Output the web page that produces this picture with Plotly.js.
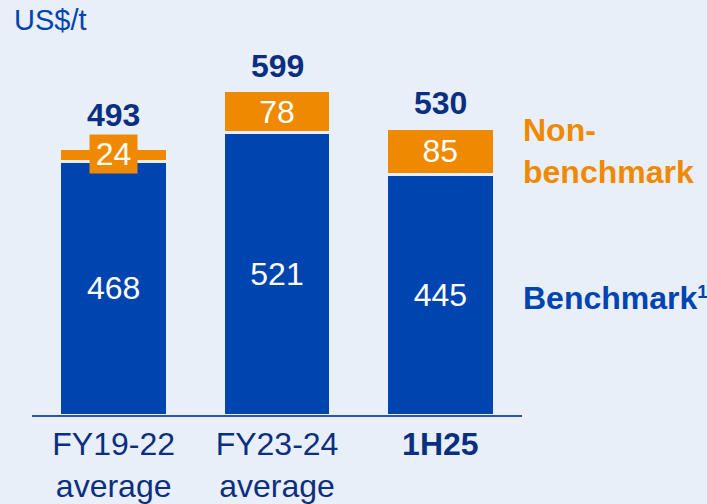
<!DOCTYPE html>
<html>
<head>
<meta charset="utf-8">
<script src="https://cdn.plot.ly/plotly-3.0.1.min.js"></script>
<style>html,body{margin:0;padding:0;background:#e9eff9;}</style>
</head>
<body>
<div id="chart" style="width:707px;height:504px;"></div>
<script>
const categories = ['FY19-22', 'FY23-24', '1H25'];
const tickLabels = ['FY19-22<br>average', 'FY23-24<br>average', '<b>1H25</b>'];
const benchmark = [468, 521, 445];
const nonBenchmark = [24, 78, 85];
const totals = [493, 599, 530];
const seriesNames = ['Benchmark', 'Non-benchmark'];

const BG = '#e9eff9';
const BLUE = '#0044b0';
const ORANGE = '#ef8a00';
const NAVY = '#0b2f80';
const FONT = 'Arial, "Liberation Sans", sans-serif';
const FS = 32;

const smallLimit = 40;
const traces = [
  {
    type: 'bar', name: seriesNames[0], x: categories, y: benchmark,
    marker: {color: BLUE, line: {color: BG, width: 3}},
    text: benchmark.map(String), textposition: 'inside', insidetextanchor: 'middle',
    constraintext: 'none',
    textfont: {family: FONT, size: FS, color: '#ffffff'}, hoverinfo: 'none'
  },
  {
    type: 'bar', name: seriesNames[1], x: categories, y: nonBenchmark,
    marker: {color: ORANGE, line: {color: BG, width: 3}},
    text: nonBenchmark.map(v => v < smallLimit ? '' : String(v)), textposition: 'inside', insidetextanchor: 'middle',
    constraintext: 'none',
    textfont: {family: FONT, size: FS, color: '#ffffff'}, hoverinfo: 'none'
  }
];

const totalShift = [13, 5, 5];
const annotations = [];
categories.forEach((c, i) => {
  annotations.push({
    x: c, y: totals[i], xref: 'x', yref: 'y', text: '<b>' + totals[i] + '</b>',
    showarrow: false, yanchor: 'bottom', yshift: totalShift[i],
    font: {family: FONT, size: FS, color: NAVY}
  });
  if (nonBenchmark[i] < smallLimit) {
    annotations.push({
      x: c, y: benchmark[i] + nonBenchmark[i] / 2, xref: 'x', yref: 'y', text: String(nonBenchmark[i]),
      showarrow: false, bgcolor: ORANGE, borderpad: 1, yshift: 1, width: 45,
      font: {family: FONT, size: FS, color: '#ffffff'}
    });
  }
});
annotations.push({
  xref: 'paper', yref: 'paper', x: -0.04, y: 1.042, xanchor: 'left', yanchor: 'middle',
  text: 'US$/t', showarrow: false, font: {family: FONT, size: 29, color: BLUE}
});
annotations.push({
  xref: 'paper', yref: 'paper', x: 0.998, y: 0.697, xanchor: 'left', yanchor: 'middle', align: 'left',
  text: '<b>Non-<br>benchmark</b>', showarrow: false, font: {family: FONT, size: FS, color: ORANGE}
});
annotations.push({
  xref: 'paper', yref: 'paper', x: 0.998, y: 0.31, xanchor: 'left', yanchor: 'middle', align: 'left',
  text: '<b>Benchmark<span style="font-size:27px"><sup>1</sup></span></b>', showarrow: false,
  font: {family: FONT, size: FS, color: BLUE}
});

const layout = {
  width: 707, height: 504,
  paper_bgcolor: BG, plot_bgcolor: BG,
  margin: {l: 32, r: 185, t: 36, b: 89},
  barmode: 'stack', bargap: 0.34,
  showlegend: false,
  font: {family: FONT},
  xaxis: {
    type: 'category', tickvals: categories, ticktext: tickLabels,
    showline: true, linecolor: '#2a55a8', linewidth: 2,
    ticks: '', tickfont: {family: FONT, size: FS, color: NAVY},
    showgrid: false, zeroline: false, fixedrange: true
  },
  yaxis: {
    range: [0, 700], visible: false, showgrid: false, zeroline: false, fixedrange: true
  },
  annotations: annotations
};

Plotly.newPlot('chart', traces, layout, {displayModeBar: false, staticPlot: true});
</script>
</body>
</html>
